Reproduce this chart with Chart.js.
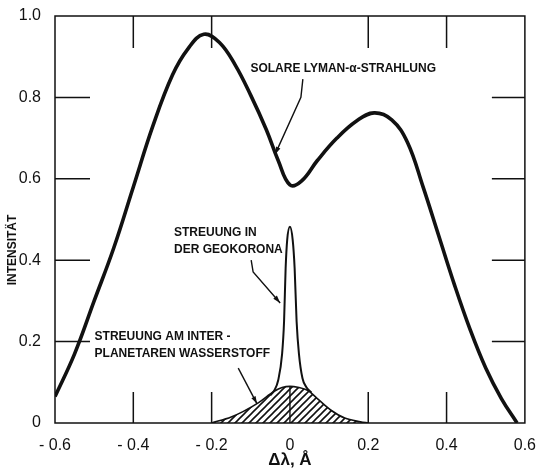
<!DOCTYPE html>
<html>
<head>
<meta charset="utf-8">
<script src="https://cdn.jsdelivr.net/npm/chart.js@4/dist/chart.umd.min.js"></script>
<style>
  body { margin: 0; background: #fff; }
</style>
</head>
<body>
<canvas id="lyman" width="541" height="469"></canvas>
<script>
// wavelength offset from line centre (Angstrom) and solar Lyman-alpha profile
const solarX = [-0.6, -0.55, -0.5, -0.45, -0.4, -0.35, -0.3, -0.26, -0.22, -0.18, -0.14, -0.1, -0.06, -0.03, 0,
  0.03, 0.07, 0.12, 0.17, 0.215, 0.26, 0.3, 0.34, 0.38, 0.42, 0.46, 0.5, 0.54, 0.58];
const solarY = [0.065, 0.17, 0.3, 0.43, 0.58, 0.73, 0.855, 0.92, 0.955, 0.935, 0.88, 0.805, 0.72, 0.645, 0.585,
  0.595, 0.645, 0.7, 0.742, 0.762, 0.745, 0.69, 0.58, 0.46, 0.34, 0.23, 0.135, 0.06, 0.0];

// scattering by interplanetary hydrogen (hatched)
const ipX = [-0.2, -0.15, -0.12, -0.08, -0.04, -0.02, 0, 0.02, 0.046, 0.07, 0.104, 0.14, 0.18, 0.2];
const ipY = [0, 0.015, 0.028, 0.05, 0.078, 0.087, 0.09, 0.088, 0.08, 0.06, 0.032, 0.012, 0.003, 0];

// scattering in the geocorona (narrow spike)
const gcX = [-0.05, -0.04, -0.03, -0.02, -0.015, -0.011, -0.007, 0, 0.007, 0.012, 0.017, 0.023, 0.032, 0.042, 0.055];
const gcY = [0.068, 0.08, 0.105, 0.17, 0.25, 0.38, 0.45, 0.482, 0.45, 0.38, 0.25, 0.17, 0.11, 0.088, 0.075];

const xTickValues = [-0.6, -0.4, -0.2, 0, 0.2, 0.4, 0.6];
const xTickLabels = ['- 0.6', '- 0.4', '- 0.2', '0', '0.2', '0.4', '0.6'];
const yTickValues = [0, 0.2, 0.4, 0.6, 0.8, 1.0];
const yTickLabels = ['0', '0.2', '0.4', '0.6', '0.8', '1.0'];

const pts = (xs, ys) => xs.map((x, i) => ({ x: x, y: ys[i] }));

function hatch() {
  const s = 7;
  const c = document.createElement('canvas');
  c.width = s; c.height = s;
  const g = c.getContext('2d');
  g.strokeStyle = '#111';
  g.lineWidth = 1.6;
  g.beginPath();
  g.moveTo(0, s); g.lineTo(s, 0);
  g.moveTo(-1, 1); g.lineTo(1, -1);
  g.moveTo(s - 1, s + 1); g.lineTo(s + 1, s - 1);
  g.stroke();
  return g.createPattern(c, 'repeat');
}

const FONT = '"Liberation Sans", Arial, sans-serif';

// labels with leader arrows, in data units: text lines, text anchor, leader path (last point = arrow tip)
const notes = [
  { lines: ['SOLARE LYMAN-\u03b1-STRAHLUNG'], at: [-0.101, 0.87],
    path: [[0.033, 0.845], [0.028, 0.80], [-0.038, 0.66]] },
  { lines: ['STREUUNG IN', 'DER GEOKORONA'], at: [-0.296, 0.467],
    path: [[-0.099, 0.40], [-0.094, 0.371], [-0.025, 0.295]] },
  { lines: ['STREUUNG AM INTER -', 'PLANETAREN WASSERSTOFF'], at: [-0.499, 0.211],
    path: [[-0.132, 0.135], [-0.084, 0.047]] }
];

const frame = {
  id: 'frame',
  afterDatasetsDraw(chart) {
    const { ctx, chartArea: a, scales: { x, y } } = chart;
    ctx.save();
    ctx.strokeStyle = '#111';
    ctx.fillStyle = '#111';
    ctx.lineWidth = 1.5;
    ctx.strokeRect(a.left, a.top, a.right - a.left, a.bottom - a.top);

    // inward ticks
    ctx.beginPath();
    yTickValues.slice(1, -1).forEach(v => {
      const py = y.getPixelForValue(v);
      ctx.moveTo(a.left, py); ctx.lineTo(a.left + 35, py);
      ctx.moveTo(a.right - 33, py); ctx.lineTo(a.right, py);
    });
    xTickValues.slice(1, -1).forEach(v => {
      if (v === 0) return;
      const px = x.getPixelForValue(v);
      ctx.moveTo(px, a.bottom); ctx.lineTo(px, a.bottom - 31);
      ctx.moveTo(px, a.top); ctx.lineTo(px, a.top + 32);
    });
    ctx.stroke();

    // annotations
    ctx.font = 'bold 12px ' + FONT;
    ctx.textBaseline = 'middle';
    ctx.textAlign = 'left';
    notes.forEach(n => {
      const tx = x.getPixelForValue(n.at[0]);
      const ty = y.getPixelForValue(n.at[1]);
      n.lines.forEach((t, i) => ctx.fillText(t, tx, ty + i * 17));
      const p = n.path.map(q => [x.getPixelForValue(q[0]), y.getPixelForValue(q[1])]);
      ctx.lineWidth = 1.4;
      ctx.beginPath();
      ctx.moveTo(p[0][0], p[0][1]);
      p.slice(1).forEach(q => ctx.lineTo(q[0], q[1]));
      ctx.stroke();
      const [ex, ey] = p[p.length - 1];
      const [sx, sy] = p[p.length - 2];
      const ang = Math.atan2(ey - sy, ex - sx);
      ctx.beginPath();
      ctx.moveTo(ex, ey);
      ctx.lineTo(ex - 8 * Math.cos(ang - 0.3), ey - 8 * Math.sin(ang - 0.3));
      ctx.lineTo(ex - 8 * Math.cos(ang + 0.3), ey - 8 * Math.sin(ang + 0.3));
      ctx.closePath();
      ctx.fill();
    });

    // vertical axis title
    ctx.translate(13, 250);
    ctx.rotate(-Math.PI / 2);
    ctx.textAlign = 'center';
    ctx.fillText('INTENSITÄT', 0, 0);
    ctx.restore();
  }
};

new Chart(document.getElementById('lyman'), {
  type: 'scatter',
  data: {
    datasets: [
      {
        data: pts(ipX, ipY),
        showLine: true,
        fill: 'origin',
        backgroundColor: hatch(),
        borderColor: '#111',
        borderWidth: 1.6,
        cubicInterpolationMode: 'monotone',
        pointRadius: 0
      },
      {
        // divider through the hatched area at the line centre
        data: [{ x: 0, y: 0 }, { x: 0, y: ipY[ipX.indexOf(0)] }],
        showLine: true,
        borderColor: '#111',
        borderWidth: 1.4,
        pointRadius: 0
      },
      {
        data: pts(gcX, gcY),
        showLine: true,
        borderColor: '#111',
        borderWidth: 2,
        cubicInterpolationMode: 'monotone',
        pointRadius: 0
      },
      {
        data: pts(solarX, solarY),
        showLine: true,
        borderColor: '#111',
        borderWidth: 3.6,
        tension: 0.4,
        pointRadius: 0
      }
    ]
  },
  options: {
    responsive: false,
    animation: false,
    devicePixelRatio: 1,
    layout: { padding: { top: 16, right: 12, left: 0, bottom: 0 } },
    plugins: { legend: { display: false }, tooltip: { enabled: false } },
    scales: {
      x: {
        type: 'linear',
        min: -0.6,
        max: 0.6,
        afterBuildTicks: s => { s.ticks = xTickValues.map(v => ({ value: v })); },
        afterFit: s => { s.height = 46; },
        grid: { display: false },
        border: { display: false },
        ticks: {
          callback: (v, i) => xTickLabels[i],
          font: { family: FONT, size: 16 },
          color: '#111',
          padding: 5,
          maxRotation: 0,
          autoSkip: false
        },
        title: {
          display: true,
          text: 'Δλ, Å',
          font: { family: FONT, size: 17, weight: 'bold', lineHeight: 1 },
          color: '#111',
          padding: { top: 0, bottom: 0 }
        }
      },
      y: {
        min: 0,
        max: 1,
        afterBuildTicks: s => { s.ticks = yTickValues.map(v => ({ value: v })); },
        afterFit: s => { s.width = 55; },
        grid: { display: false },
        border: { display: false },
        ticks: {
          callback: (v, i) => yTickLabels[i],
          font: { family: FONT, size: 16 },
          color: '#111',
          padding: 6
        }
      }
    }
  },
  plugins: [frame]
});
</script>
</body>
</html>
